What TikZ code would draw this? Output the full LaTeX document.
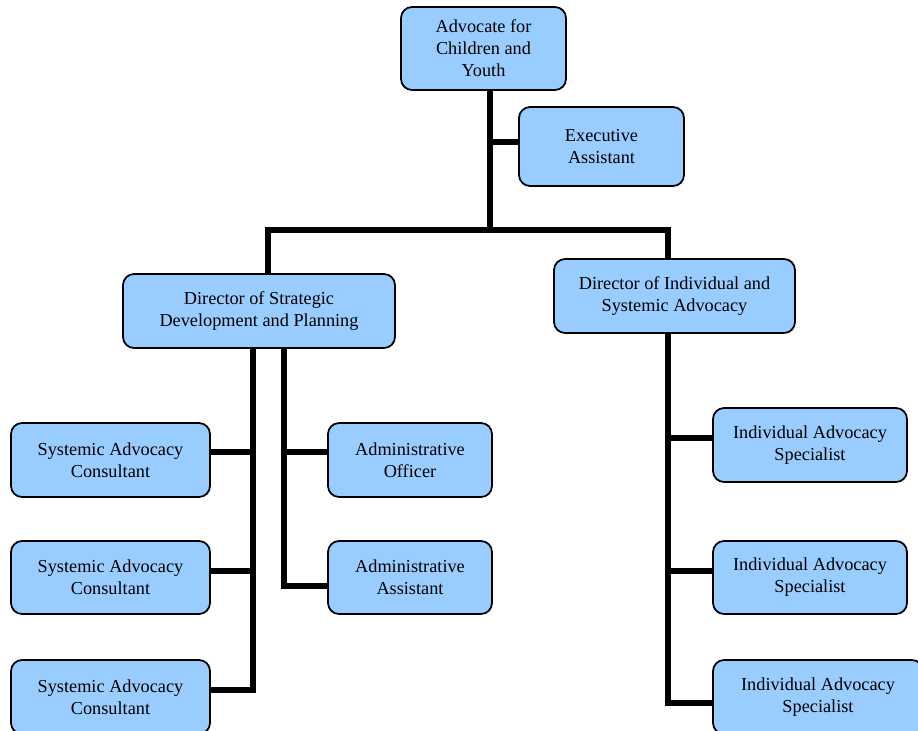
\documentclass[tikz,border=0pt]{standalone}
\usepackage{fontspec}
\setmainfont{Liberation Serif}
\definecolor{postblue}{HTML}{99CCFF}
\tikzset{
  post/.style={draw=black,line width=1pt,fill=postblue,rounded corners=0.22cm,
    align=center,inner sep=0pt,font=\fontsize{10.4}{12.5}\selectfont},
  link/.style={line width=3.4pt}
}
\begin{document}
\begin{tikzpicture}[x=0.02cm,y=-0.02cm]
  \useasboundingbox (0,0) rectangle (918,730);
  \clip (0,0) rectangle (918,730);
  % posts
  \node[post,minimum width=3.3cm,minimum height=1.66cm] (adv) at (483.5,48.5) {Advocate for\\Children and\\Youth};
  \node[post,minimum width=3.3cm,minimum height=1.58cm] (exec) at (601.5,146.5) {Executive\\Assistant};
  \node[post,minimum width=5.44cm,minimum height=1.48cm] (dsdp) at (259,311) {Director of Strategic\\Development and Planning};
  \node[post,minimum width=4.82cm,minimum height=1.48cm] (disa) at (674.5,296) {Director of Individual and\\Systemic Advocacy};
  \node[post,minimum width=3.98cm,minimum height=1.48cm] (sac1) at (110.5,460) {Systemic Advocacy\\Consultant};
  \node[post,minimum width=3.98cm,minimum height=1.46cm] (sac2) at (110.5,577.5) {Systemic Advocacy\\Consultant};
  \node[post,minimum width=3.98cm,minimum height=1.48cm] (sac3) at (110.5,697) {Systemic Advocacy\\Consultant};
  \node[post,minimum width=3.28cm,minimum height=1.48cm] (ao) at (410,460) {Administrative\\Officer};
  \node[post,minimum width=3.28cm,minimum height=1.46cm] (aa) at (410,577.5) {Administrative\\Assistant};
  \node[post,minimum width=3.88cm,minimum height=1.48cm] (ias1) at (810,445) {Individual Advocacy\\Specialist};
  \node[post,minimum width=3.88cm,minimum height=1.46cm] (ias2) at (810,577.5) {Individual Advocacy\\Specialist};
  \node[post,minimum width=4.2cm,minimum height=1.48cm] (ias3) at (818,697) {Individual Advocacy\\Specialist};
  % bus lines
  \coordinate (top) at (490,230);
  \coordinate (lcol) at (268,230);
  \coordinate (rcol) at (668,230);
  \coordinate (sacbus) at (253,400);
  \coordinate (adbus) at (284,400);
  \draw[link] (adv.south -| top) -- (top);
  \draw[link] ([yshift=0.09cm]exec.west) -- ([yshift=0.09cm]exec.west -| top);
  \draw[link] (dsdp.north -| lcol) -- (lcol) -- (rcol) -- (disa.north -| rcol);
  \draw[link] (dsdp.south -| sacbus) |- ([yshift=0.14cm]sac3.east);
  \draw[link] ([yshift=0.16cm]sac1.east) -- ([yshift=0.16cm]sac1.east -| sacbus);
  \draw[link] ([yshift=0.13cm]sac2.east) -- ([yshift=0.13cm]sac2.east -| sacbus);
  \draw[link] (dsdp.south -| adbus) |- ([yshift=-0.17cm]aa.west);
  \draw[link] ([yshift=0.16cm]ao.west) -- ([yshift=0.16cm]ao.west -| adbus);
  \draw[link] (disa.south -| rcol) |- ([yshift=-0.12cm]ias3.west);
  \draw[link] ([yshift=0.14cm]ias1.west) -- ([yshift=0.14cm]ias1.west -| rcol);
  \draw[link] ([yshift=0.13cm]ias2.west) -- ([yshift=0.13cm]ias2.west -| rcol);
\end{tikzpicture}
\end{document}
